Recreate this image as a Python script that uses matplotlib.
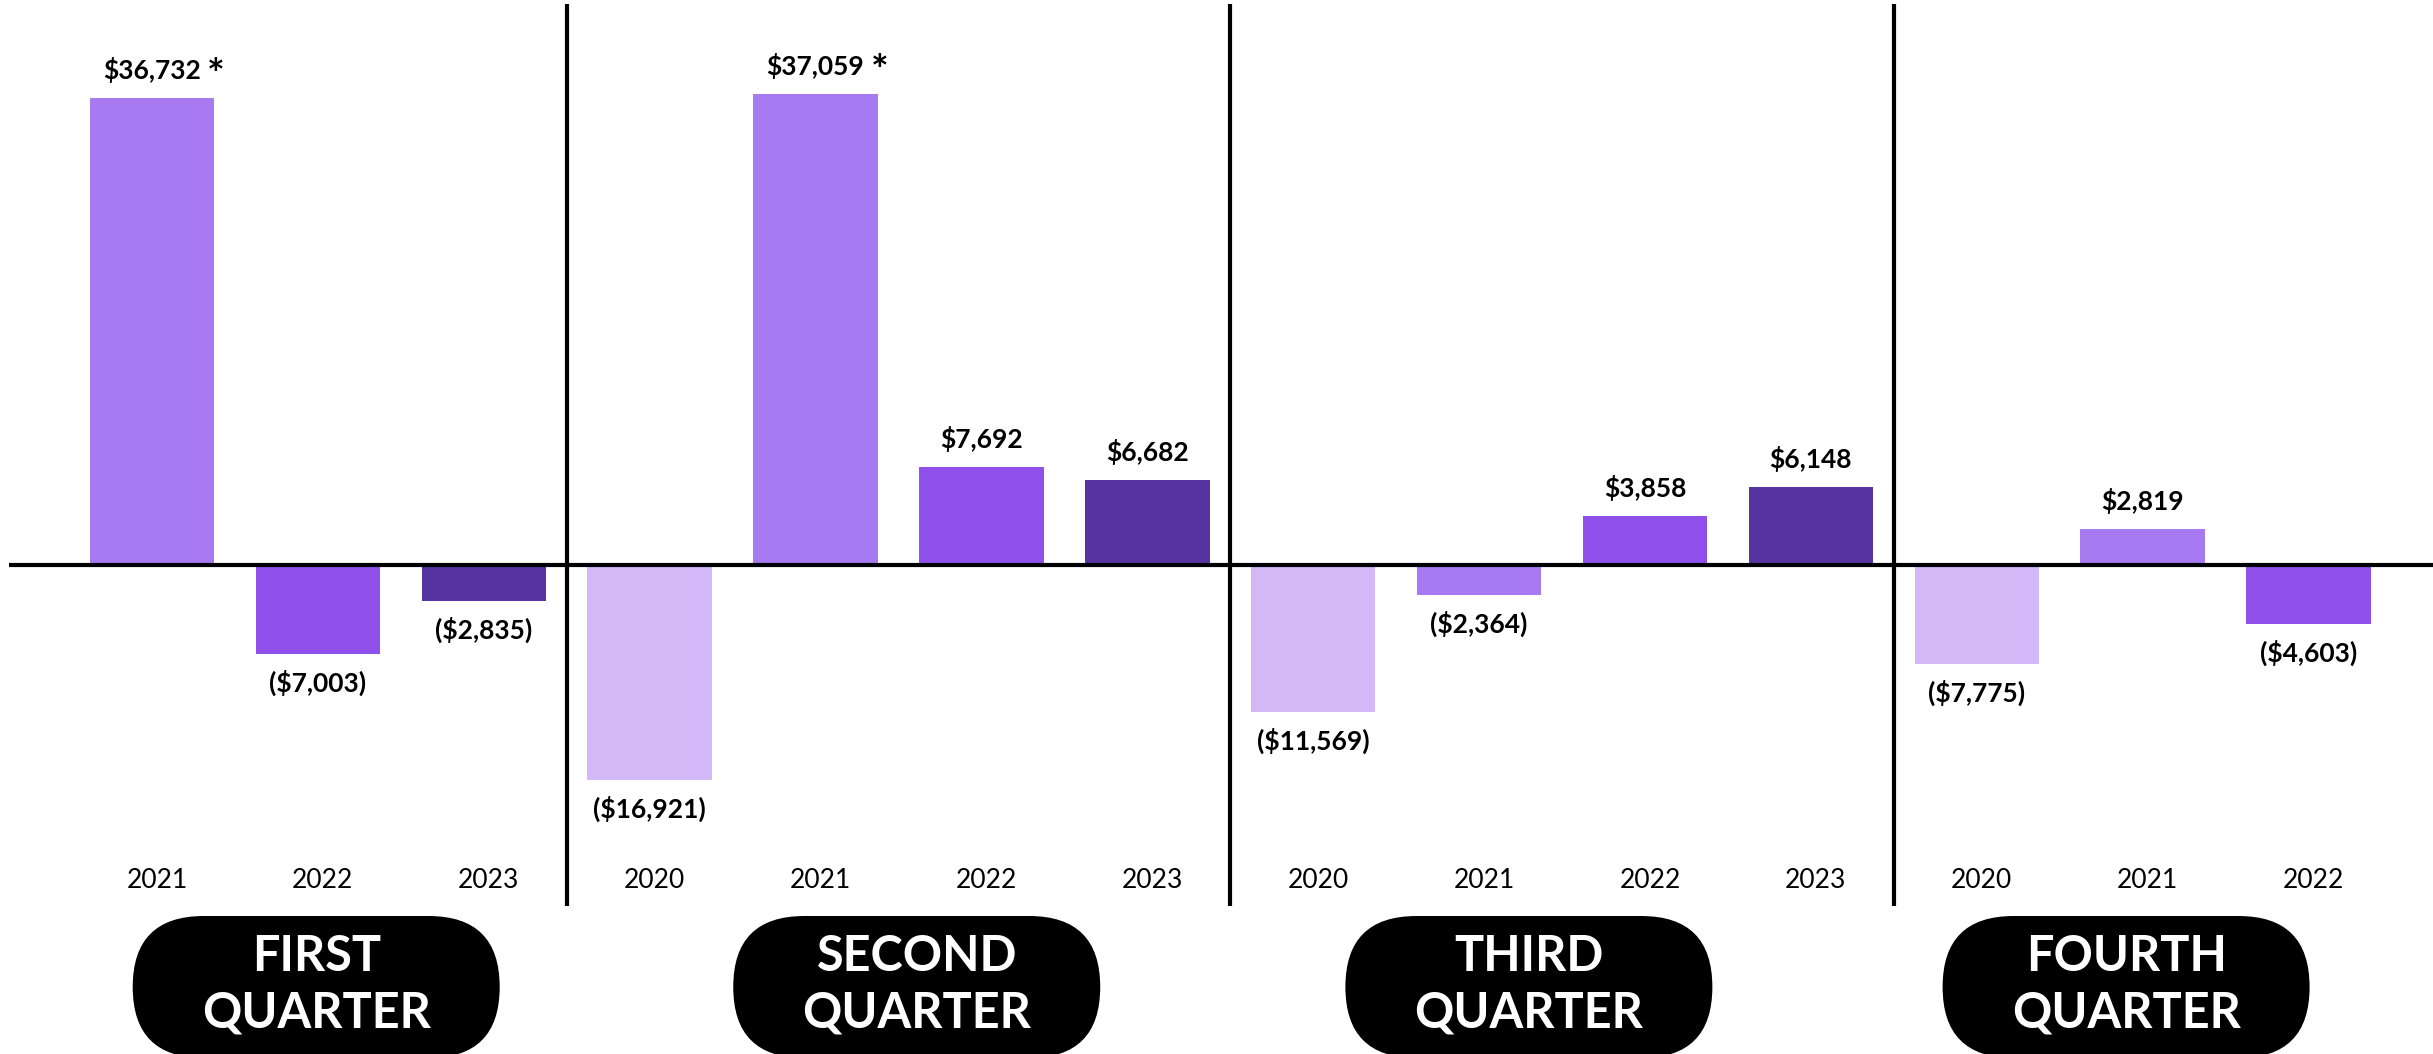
import matplotlib
matplotlib.use("Agg")
import matplotlib.pyplot as plt
from matplotlib.patches import FancyBboxPatch

# data
quarter_names = ["FIRST\nQUARTER", "SECOND\nQUARTER", "THIRD\nQUARTER", "FOURTH\nQUARTER"]
q1_years = [2021, 2022, 2023]
q1_values = [36732, -7003, -2835]
q2_years = [2020, 2021, 2022, 2023]
q2_values = [-16921, 37059, 7692, 6682]
q3_years = [2020, 2021, 2022, 2023]
q3_values = [-11569, -2364, 3858, 6148]
q4_years = [2020, 2021, 2022]
q4_values = [-7775, 2819, -4603]
starred = [(1, 2021), (2, 2021)]

year_colors = {2020: "#D2B8F6", 2021: "#A77AF2", 2022: "#8F50EC", 2023: "#5635A3"}

groups = [(q1_years, q1_values), (q2_years, q2_values),
          (q3_years, q3_values), (q4_years, q4_values)]

plt.rcParams['font.family'] = ['Lato', 'DejaVu Sans']

fig = plt.figure(figsize=(24.33, 10.54), dpi=100)
ax = fig.add_axes([0, 0, 1, 1])
ax.set_xlim(-0.916, 13.75)
ax.set_ylim(-38455, 44432)
ax.axis("off")

pos = 0
dividers = []
for qi, (years, values) in enumerate(groups):
    xs = list(range(pos, pos + len(years)))
    ax.bar(xs, values, width=0.75, color=[year_colors[y] for y in years], zorder=2)
    for x, y, v in zip(xs, years, values):
        if v >= 0:
            ax.annotate("${:,}".format(v), (x, v), xytext=(0, 20), textcoords="offset points",
                        ha="center", va="center", fontsize=19, fontweight="bold")
            if (qi + 1, y) in starred:
                ax.annotate("*", (x, v), xytext=(46, 15), textcoords="offset points",
                            ha="center", va="center", fontsize=30, fontweight="bold")
        else:
            ax.annotate("(${:,})".format(-v), (x, v), xytext=(0, -21), textcoords="offset points",
                        ha="center", va="center", fontsize=19, fontweight="bold")
        ax.text(x + 0.03, -24772, str(y), ha="center", va="center", fontsize=19)
    pos += len(years)
    if qi < len(groups) - 1:
        dividers.append(pos - 0.5)

ax.hlines(0, -0.86, 14, color="black", lw=3, zorder=3)
ax.vlines(dividers, -26816, 44117, color="black", lw=3, zorder=3)

# pill labels, drawn in inches so the rounded ends stay round
pill_centers = [0.99, 4.61, 8.30, 11.90]
inv = fig.dpi_scale_trans.inverted()
r = 0.71
for name, cx in zip(quarter_names, pill_centers):
    px, ptop = inv.transform(ax.transData.transform((cx, -27603)))
    w, h = 3.67, 1.42
    pill = FancyBboxPatch((px - w / 2 + r, ptop - h + r), w - 2 * r, h - 2 * r,
                          boxstyle="round,pad=%g" % r, transform=fig.dpi_scale_trans,
                          facecolor="black", edgecolor="none", zorder=4)
    fig.patches.append(pill)
    first, second = name.split("\n")
    fig.text(px / 24.33, (10.54 - 9.56) / 10.54, first, ha="center", va="center",
             color="white", fontsize=35, fontweight="bold", zorder=5)
    fig.text(px / 24.33, (10.54 - 10.13) / 10.54, second, ha="center", va="center",
             color="white", fontsize=35, fontweight="bold", zorder=5)

fig.savefig("out.png", dpi=100, facecolor="white")
